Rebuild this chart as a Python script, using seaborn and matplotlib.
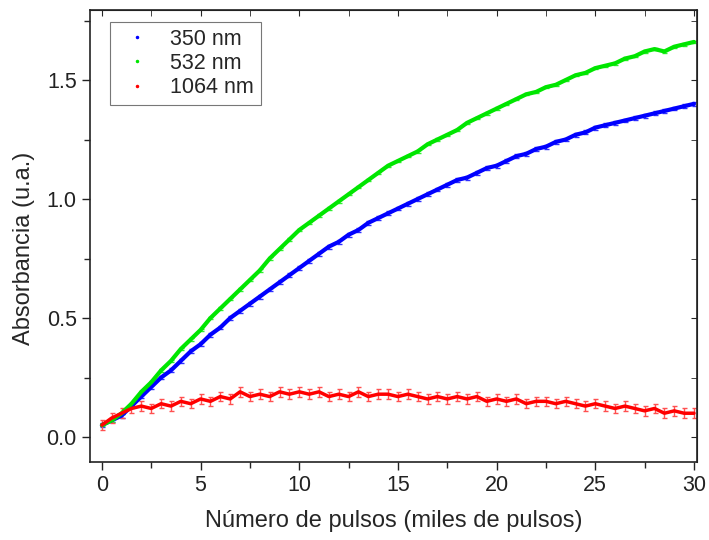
import numpy as np
import pandas as pd
import matplotlib
matplotlib.use("Agg")
import matplotlib.pyplot as plt
import seaborn as sns
from matplotlib.ticker import MultipleLocator

# x positions (miles de pulsos)
pulsos = [0.0, 0.5, 1.0, 1.5, 2.0, 2.5, 3.0, 3.5, 4.0, 4.5, 5.0, 5.5, 6.0, 6.5, 7.0, 7.5,
          8.0, 8.5, 9.0, 9.5, 10.0, 10.5, 11.0, 11.5, 12.0, 12.5, 13.0, 13.5, 14.0, 14.5,
          15.0, 15.5, 16.0, 16.5, 17.0, 17.5, 18.0, 18.5, 19.0, 19.5, 20.0, 20.5, 21.0,
          21.5, 22.0, 22.5, 23.0, 23.5, 24.0, 24.5, 25.0, 25.5, 26.0, 26.5, 27.0, 27.5,
          28.0, 28.5, 29.0, 29.5, 30.0]

abs_350 = [0.05, 0.07, 0.09, 0.13, 0.17, 0.21, 0.25, 0.28, 0.32, 0.36, 0.39, 0.43, 0.46,
           0.50, 0.53, 0.56, 0.59, 0.62, 0.65, 0.68, 0.71, 0.74, 0.77, 0.80, 0.82, 0.85,
           0.87, 0.90, 0.92, 0.94, 0.96, 0.98, 1.00, 1.02, 1.04, 1.06, 1.08, 1.09, 1.11,
           1.13, 1.14, 1.16, 1.18, 1.19, 1.21, 1.22, 1.24, 1.25, 1.27, 1.28, 1.30, 1.31,
           1.32, 1.33, 1.34, 1.35, 1.36, 1.37, 1.38, 1.39, 1.40]

abs_532 = [0.05, 0.07, 0.10, 0.14, 0.19, 0.23, 0.28, 0.32, 0.37, 0.41, 0.45, 0.50, 0.54,
           0.58, 0.62, 0.66, 0.70, 0.75, 0.79, 0.83, 0.87, 0.90, 0.93, 0.96, 0.99, 1.02,
           1.05, 1.08, 1.11, 1.14, 1.16, 1.18, 1.20, 1.23, 1.25, 1.27, 1.29, 1.32, 1.34,
           1.36, 1.38, 1.40, 1.42, 1.44, 1.45, 1.47, 1.48, 1.50, 1.52, 1.53, 1.55, 1.56,
           1.57, 1.59, 1.60, 1.62, 1.63, 1.62, 1.64, 1.65, 1.66]

abs_1064 = [0.05, 0.08, 0.10, 0.12, 0.13, 0.12, 0.14, 0.13, 0.15, 0.14, 0.16, 0.15, 0.17,
            0.16, 0.19, 0.17, 0.18, 0.17, 0.19, 0.18, 0.19, 0.18, 0.19, 0.17, 0.18, 0.17,
            0.19, 0.17, 0.18, 0.18, 0.17, 0.18, 0.17, 0.16, 0.17, 0.16, 0.17, 0.16, 0.17,
            0.15, 0.16, 0.15, 0.16, 0.14, 0.15, 0.15, 0.14, 0.15, 0.14, 0.13, 0.14, 0.13,
            0.12, 0.13, 0.12, 0.11, 0.12, 0.10, 0.11, 0.10, 0.10]

series_labels = ["350 nm", "532 nm", "1064 nm"]
series_colors = ["#0000ff", "#00e600", "#ff0000"]
series_err = [0.008, 0.005, 0.02]

rows = []
for lab, vals in zip(series_labels, [abs_350, abs_532, abs_1064]):
    for xv, yv in zip(pulsos, vals):
        rows.append({"pulsos": xv, "abs": yv, "serie": lab})
df = pd.DataFrame(rows)

sns.set_style("ticks")
plt.rcParams["font.family"] = ["Liberation Sans", "DejaVu Sans"]

fig = plt.figure(figsize=(7.09, 5.40), dpi=100)
ax = fig.add_axes([0.127, 0.1444, 0.856, 0.837])

palette = dict(zip(series_labels, series_colors))
err_colors = {"350 nm": "#3030ff", "532 nm": "#30f030", "1064 nm": "#ff5050"}
for lab, err in zip(series_labels, series_err):
    d = df[df["serie"] == lab]
    _, caps, bars = ax.errorbar(d["pulsos"], d["abs"], yerr=err, fmt="none",
                                ecolor=err_colors[lab], elinewidth=1.0, capsize=1.8,
                                capthick=1.0, zorder=2)
    for c in caps:
        c.set_color(err_colors[lab])
        c.set_markeredgecolor(err_colors[lab])

lw = {"350 nm": 3.0, "532 nm": 3.0, "1064 nm": 2.5}
for lab in series_labels:
    d = df[df["serie"] == lab]
    sns.lineplot(data=d, x="pulsos", y="abs", color=palette[lab], lw=lw[lab],
                 ax=ax, legend=False, zorder=3)

# legend with tiny point markers
handles = [plt.Line2D([], [], ls="none", marker=".", ms=3, color=c) for c in series_colors]
leg = ax.legend(handles, series_labels, loc="upper left", fontsize=15.5, frameon=True,
                fancybox=False, edgecolor="#555555", borderpad=0.3, handletextpad=0.6,
                handlelength=1.9, labelspacing=0.15, borderaxespad=0,
                bbox_to_anchor=(0.033, 0.973))
leg.get_frame().set_linewidth(0.8)

ax.set_xlim(-0.6, 30.15)
ax.set_ylim(-0.105, 1.794)
ax.xaxis.set_major_locator(MultipleLocator(5))
ax.xaxis.set_minor_locator(MultipleLocator(2.5))
ax.yaxis.set_major_locator(MultipleLocator(0.5))
ax.yaxis.set_minor_locator(MultipleLocator(0.25))
ax.yaxis.set_major_formatter(matplotlib.ticker.FormatStrFormatter("%.1f"))

ax.tick_params(which="major", direction="out", length=6, width=1, labelsize=15.5,
               colors="#222222")
ax.tick_params(which="minor", direction="out", length=4, width=1)
ax.tick_params(which="both", top=False, right=False)
sec_x = ax.secondary_xaxis("top")
sec_x.xaxis.set_major_locator(MultipleLocator(5))
sec_x.xaxis.set_minor_locator(MultipleLocator(2.5))
sec_x.tick_params(which="both", direction="in", length=4, labeltop=False)
sec_y = ax.secondary_yaxis("right")
sec_y.yaxis.set_major_locator(MultipleLocator(0.5))
sec_y.yaxis.set_minor_locator(MultipleLocator(0.25))
sec_y.tick_params(which="both", direction="in", length=4, labelright=False)

for s in ax.spines.values():
    s.set_linewidth(1.2)
    s.set_color("#222222")

ax.set_xlabel("Número de pulsos (miles de pulsos)", fontsize=17, labelpad=10)
ax.set_ylabel("Absorbancia (u.a.)", fontsize=17, labelpad=10)
ax.yaxis.set_label_coords(-0.09, 0.473)

fig.savefig("out.png", dpi=100)
